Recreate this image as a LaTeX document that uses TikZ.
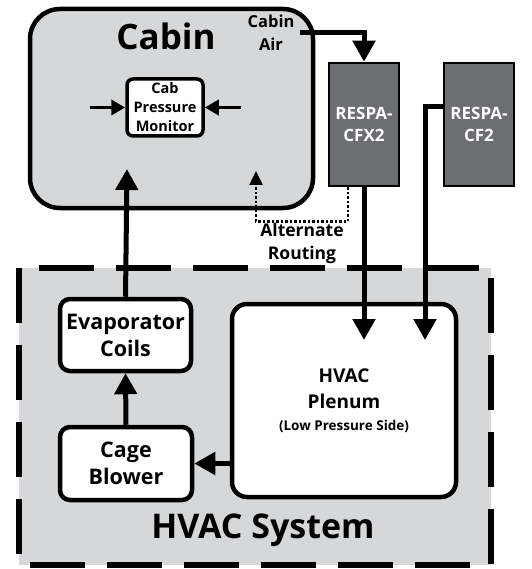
\documentclass[tikz,border=0pt]{standalone}
\usepackage{fontspec}
\setmainfont{Open Sans}
\usetikzlibrary{arrows.meta, positioning, calc}
\definecolor{panelgray}{RGB}{214,215,217}
\definecolor{unitgray}{RGB}{109,110,113}

\begin{document}
\begin{tikzpicture}[x=1pt, y=-1pt,
    box/.style={draw, line width=4.5pt, rounded corners=10pt, fill=white, inner sep=0pt},
    unit/.style={draw, line width=2.5pt, fill=unitgray, text=white, inner sep=0pt,
        minimum width=70pt, minimum height=123pt, align=center,
        font=\bfseries\fontsize{17}{22}\selectfont},
    lbl/.style={align=center, inner sep=1pt},
    flow/.style={line width=5pt, -{Triangle[length=21pt, width=22pt]}},
    squeeze/.style={line width=3.5pt, -{Triangle[length=14pt, width=15pt]}},
    alt/.style={line width=2.5pt, dotted, -{Triangle[length=14pt, width=13pt]}}]
    \useasboundingbox (0,0) rectangle (531,569);

    % HVAC system enclosure
    \draw[line width=6pt, dash pattern=on 55pt off 22pt, fill=panelgray] (19,268) rectangle (491,565);
    \node[lbl, font=\bfseries\fontsize{34}{36}\selectfont] (hvac) at (263,530) {HVAC System};

    % Cabin
    \node[draw, line width=4.5pt, rounded corners=30pt, fill=panelgray,
        minimum width=283pt, minimum height=199pt] (cabin) at (171.5,108.5) {};
    \node[lbl, font=\bfseries\fontsize{35}{36}\selectfont] (cabintitle) at (166,36) {Cabin};
    \node[lbl, font=\bfseries\fontsize{16.5}{23}\selectfont] (cabinair) at (271,33) {Cabin\\Air};
    \node[box, line width=3.5pt, rounded corners=6pt, minimum width=76pt, minimum height=57pt,
        align=center, font=\bfseries\fontsize{14.5}{19}\selectfont] (monitor) at (165,107.5)
        {Cab\\Pressure\\Monitor};

    % Filter units
    \node[unit] (cfx) at (364,124.5) {RESPA-\\CFX2};
    \node[unit] (cf) at (479,124.5) {RESPA-\\CF2};

    % HVAC parts
    \node[box, minimum width=131pt, minimum height=72pt, align=center,
        font=\bfseries\fontsize{21.5}{27}\selectfont] (evap) at (125.5,335) {Evaporator\\Coils};
    \node[box, minimum width=132pt, minimum height=73pt, align=center,
        font=\bfseries\fontsize{21.5}{27}\selectfont] (blower) at (126,463.5) {Cage\\Blower};
    \node[box, rounded corners=15pt, minimum width=224pt, minimum height=193pt, align=center,
        font=\bfseries\fontsize{19}{26}\selectfont] (plenum) at (344,400.5)
        {HVAC\\Plenum\\[-4pt]\fontsize{13.5}{15}\selectfont (Low Pressure Side)};
    \node[lbl, font=\bfseries\fontsize{17.5}{23}\selectfont] (altlabel) at (302,243) {Alternate\\Routing};

    % Air flow
    \coordinate (cabinIn) at (127,169);
    \coordinate (altIn) at (256,171);
    \coordinate (plenumInA) at (364,340);
    \coordinate (plenumInB) at (425,340);
    \draw[flow] ([xshift=4pt]cabinair.east) -| (cfx.north);
    \draw[flow] (cfx.south) -- (plenumInA);
    \draw[flow] ([yshift=18pt]cf.west) -| (plenumInB);
    \draw[flow] (plenum.west |- blower.east) -- (blower.east);
    \draw[flow] (blower.north) -- (evap.south);
    \draw[flow] (evap.north) -- (cabinIn);
    \draw[alt] ([xshift=-16pt]cfx.south) -- ++(0,34) -| (altIn);
    \draw[squeeze] ([xshift=-35pt]monitor.west) -- (monitor.west);
    \draw[squeeze] ([xshift=36pt]monitor.east) -- (monitor.east);
\end{tikzpicture}
\end{document}
